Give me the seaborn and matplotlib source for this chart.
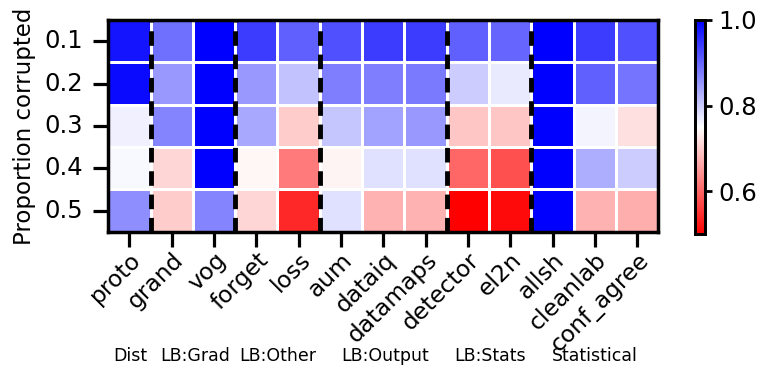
import numpy as np
import pandas as pd
import seaborn as sns
import matplotlib.pyplot as plt

# Methods (columns) and corruption levels (rows)
methods = ["proto", "grand", "vog", "forget", "loss", "aum", "dataiq",
           "datamaps", "detector", "el2n", "allsh", "cleanlab", "conf_agree"]
proportions = ["0.1", "0.2", "0.3", "0.4", "0.5"]

proto = [0.98, 0.99, 0.765, 0.757, 0.86]
grand = [0.89, 0.85, 0.87, 0.71, 0.70]
vog = [1.0, 1.0, 1.0, 1.0, 0.87]
forget = [0.94, 0.85, 0.835, 0.742, 0.71]
loss = [0.905, 0.81, 0.70, 0.62, 0.54]
aum = [0.92, 0.875, 0.805, 0.74, 0.78]
dataiq = [0.94, 0.875, 0.84, 0.78, 0.675]
datamaps = [0.94, 0.88, 0.85, 0.78, 0.675]
detector = [0.905, 0.80, 0.695, 0.60, 0.50]
el2n = [0.90, 0.77, 0.695, 0.58, 0.51]
allsh = [1.0, 1.0, 1.0, 1.0, 1.0]
cleanlab = [0.94, 0.905, 0.76, 0.83, 0.675]
conf_agree = [0.92, 0.885, 0.72, 0.80, 0.67]

# Group labels shown under the x axis
groups = ["Dist", "LB:Grad", "LB:Other", "LB:Output", "LB:Stats", "Statistical"]
group_sizes = [1, 2, 2, 3, 2, 3]

df = pd.DataFrame(
    {"proto": proto, "grand": grand, "vog": vog, "forget": forget, "loss": loss,
     "aum": aum, "dataiq": dataiq, "datamaps": datamaps, "detector": detector,
     "el2n": el2n, "allsh": allsh, "cleanlab": cleanlab, "conf_agree": conf_agree},
    index=proportions,
)[methods]

sns.set_style("ticks")
plt.rcParams["font.family"] = ["DejaVu Sans"]
plt.rcParams.update({"text.color": "black", "axes.labelcolor": "black",
                     "xtick.color": "black", "ytick.color": "black"})

fig = plt.figure(figsize=(7.62, 3.77), dpi=100)
ax = fig.add_axes([0.142, 0.385, 0.722, 0.562])
cax = fig.add_axes([0.912, 0.379, 0.013, 0.568])

sns.heatmap(df, ax=ax, cbar_ax=cax, cmap="bwr_r", vmin=0.5, vmax=1.0,
            linewidths=1, linecolor="white")

# dashed separators between method groups
bounds = np.cumsum(group_sizes)[:-1]
for b in bounds:
    ax.axvline(b, color="black", linewidth=3.5, linestyle=(0, (3, 1.8)))

for s in ax.spines.values():
    s.set_visible(True)
    s.set_linewidth(2.5)
    s.set_color("black")

ax.set_ylabel("Proportion corrupted", fontsize=16.5, labelpad=6)
ax.set_xlabel("")
ax.set_yticklabels(proportions, rotation=0, fontsize=17.5)
ax.set_xticklabels(methods, rotation=45, ha="right", rotation_mode="anchor",
                   fontsize=16.8)
ax.tick_params(axis="both", length=11, width=2.3)
ax.tick_params(axis="y", pad=7)
ax.tick_params(axis="x", pad=1)

cax.set_yticks([0.6, 0.8, 1.0])
cax.tick_params(labelsize=17.5, length=5, width=2, pad=5)
for s in cax.spines.values():
    s.set_visible(True)
    s.set_linewidth(2)
    s.set_color("black")

# group labels below tick labels
xs = [130, 195, 278, 385, 490, 595]
for g, x in zip(groups, xs):
    fig.text(x / 762, 1 - 356 / 377, g, fontsize=12.5, ha="center", va="center")

fig.savefig("out.png", dpi=100)
